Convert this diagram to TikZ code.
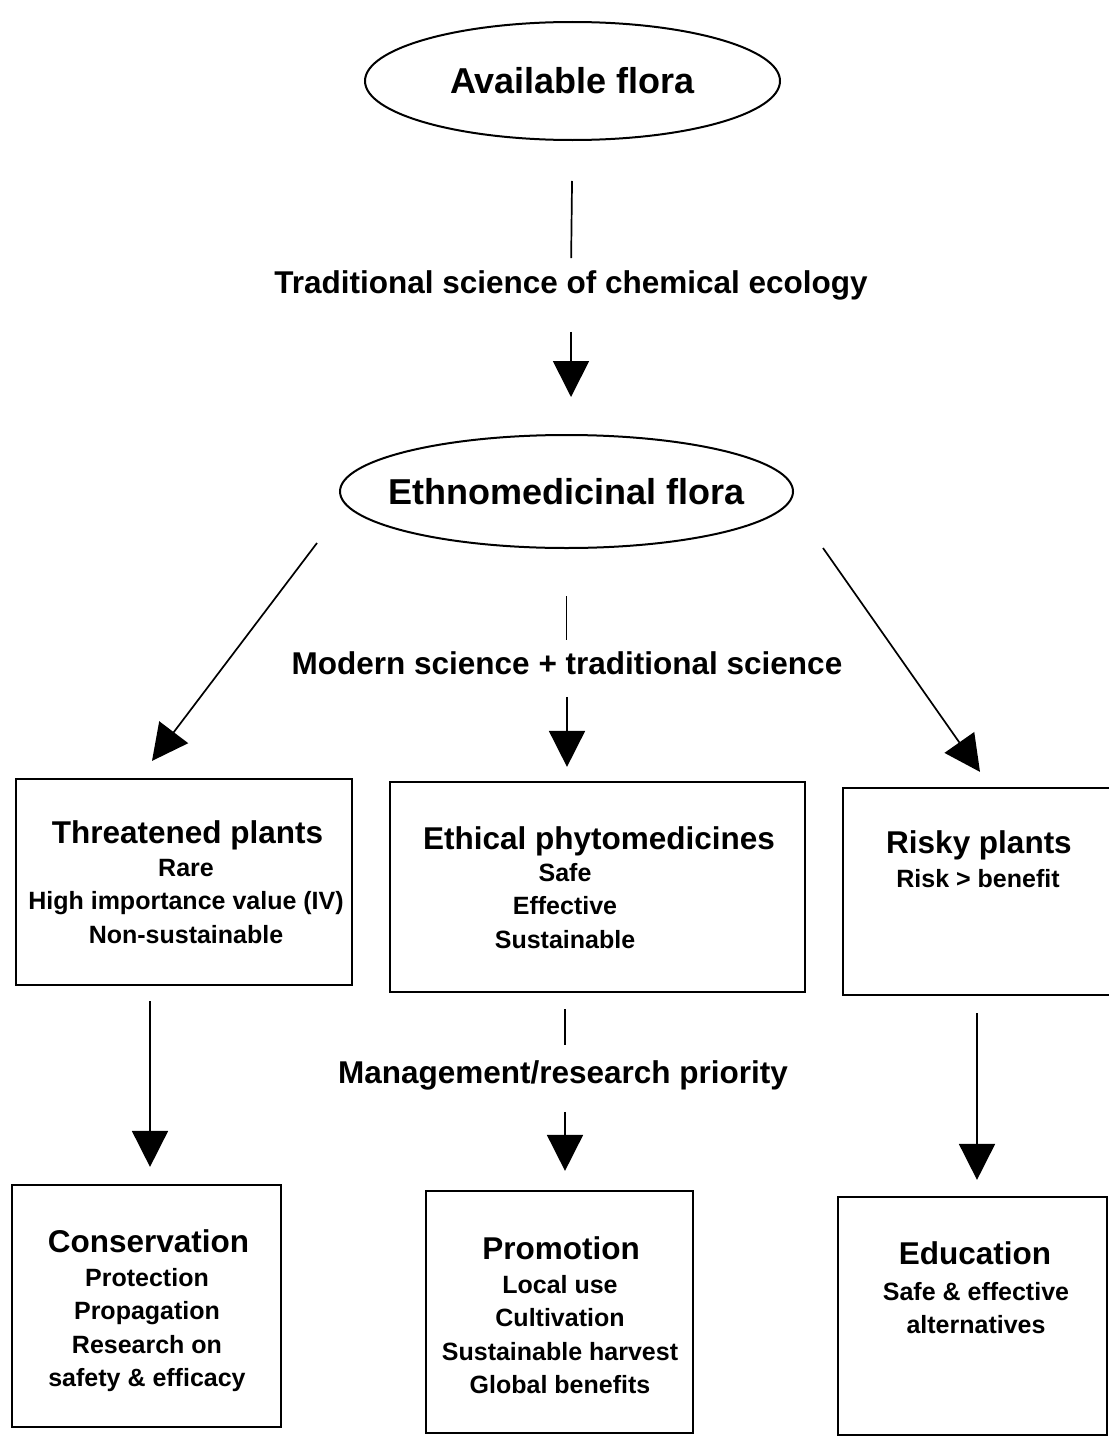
\documentclass[tikz,border=0pt]{standalone}
\usepackage{fontspec}
\setmainfont{Liberation Sans}
\usetikzlibrary{shapes.geometric,arrows.meta,calc}
\begin{document}
\begin{tikzpicture}[x=1pt,y=-1pt,
  ellnode/.style={draw,ellipse,line width=2pt,inner sep=0pt},
  elltext/.style={font=\fontsize{36}{40}\selectfont\bfseries},
  boxnode/.style={draw,rectangle,line width=2.2pt,inner sep=0pt},
  lbl/.style={inner sep=0pt,font=\fontsize{31.5}{36}\selectfont\bfseries},
  ttl/.style={inner sep=0pt,anchor=base,font=\fontsize{31.5}{36}\selectfont\bfseries},
  bdy/.style={inner sep=0pt,anchor=north,align=center,font=\fontsize{25}{33.4}\selectfont\bfseries},
  ln/.style={line width=1.7pt},
  arr/.style={line width=1.7pt,-{Triangle[width=36pt,length=36pt]}}
]
\useasboundingbox (0,0) rectangle (1108,1437);

% ellipses
\node[ellnode,minimum width=415pt,minimum height=118pt,label={[elltext]center:Available flora}] (af) at (572.5,81) {};
\node[ellnode,minimum width=453pt,minimum height=113pt,label={[elltext]center:Ethnomedicinal flora}] (ef) at (566.5,491.5) {};

% labels
\node[lbl] (lab1) at (571,285) {Traditional science of chemical ecology};
\node[lbl] (lab2) at (567,663) {Modern science + traditional science};
\node[lbl] (lab3) at (563,1075) {Management/research priority};

% boxes row 1
\node[boxnode,minimum width=336pt,minimum height=206pt] (T) at (184,882) {};
\node[boxnode,minimum width=415pt,minimum height=210pt] (E) at (597.5,887) {};
\node[boxnode,minimum width=272pt,minimum height=207pt] (R) at (979,891.5) {};
% boxes row 2
\node[boxnode,minimum width=269pt,minimum height=242pt] (C) at (146.5,1306) {};
\node[boxnode,minimum width=267pt,minimum height=242pt] (P) at (559.5,1312) {};
\node[boxnode,minimum width=269pt,minimum height=238pt] (Ed) at (972.5,1316) {};

% box texts
\node[ttl] (Tt) at (187.5,843) {Threatened plants};
\node[bdy] (Tb) at (186,859) {Rare\\High importance value (IV)\\Non-sustainable};
\node[ttl] (Et) at (599,849) {Ethical phytomedicines};
\node[bdy] (Eb) at (565,863) {Safe\\Effective\\Sustainable};
\node[ttl] (Rt) at (979,853) {Risky plants};
\node[bdy] (Rb) at (978,869) {Risk > benefit};
\node[ttl] (Ct) at (148.5,1252) {Conservation};
\node[bdy] (Cb) at (147,1268) {Protection\\Propagation\\Research on\\safety \& efficacy};
\node[ttl] (Pt) at (561,1259) {Promotion};
\node[bdy] (Pb) at (560,1275) {Local use\\Cultivation\\Sustainable harvest\\Global benefits};
\node[ttl] (Edt) at (975,1264) {Education};
\node[bdy] (Edb) at (976,1282) {Safe \& effective\\alternatives};

% connectors top
\draw[ln,shorten <=40pt,shorten >=12pt] (af.south) -- (lab1.north);
\draw[arr,shorten <=32pt,shorten >=37pt] (lab1.south) -- (lab1.south |- ef.north);

% from ethnomedicinal flora
\draw[arr] ($(ef.west)+(-22,51.5)$) -- ($(T.north)+(-32,-17)$);
\draw[ln,shorten <=47pt,shorten >=11pt] (ef.south) -- (ef.south |- lab2.north);
\draw[arr,shorten <=22pt,shorten >=14pt] (lab2.south) -- (lab2.south |- E.north);
\draw[arr] ($(ef.east)+(29,56.5)$) -- ($(R.north)+(1,-15)$);

% to second row
\coordinate (t1) at ($(T.south)+(-34,0)$);
\draw[arr,shorten <=15pt,shorten >=17pt] (t1) -- (t1 |- C.north);
\coordinate (e1) at ($(E.south)+(-32.5,0)$);
\draw[ln,shorten <=16pt,shorten >=15pt] (e1) -- (e1 |- lab3.north);
\draw[arr,shorten <=22pt,shorten >=19pt] (e1 |- lab3.south) -- (e1 |- P.north);
\coordinate (r1) at ($(R.south)+(-2,0)$);
\draw[arr,shorten <=17pt,shorten >=16pt] (r1) -- (r1 |- Ed.north);
\end{tikzpicture}
\end{document}
